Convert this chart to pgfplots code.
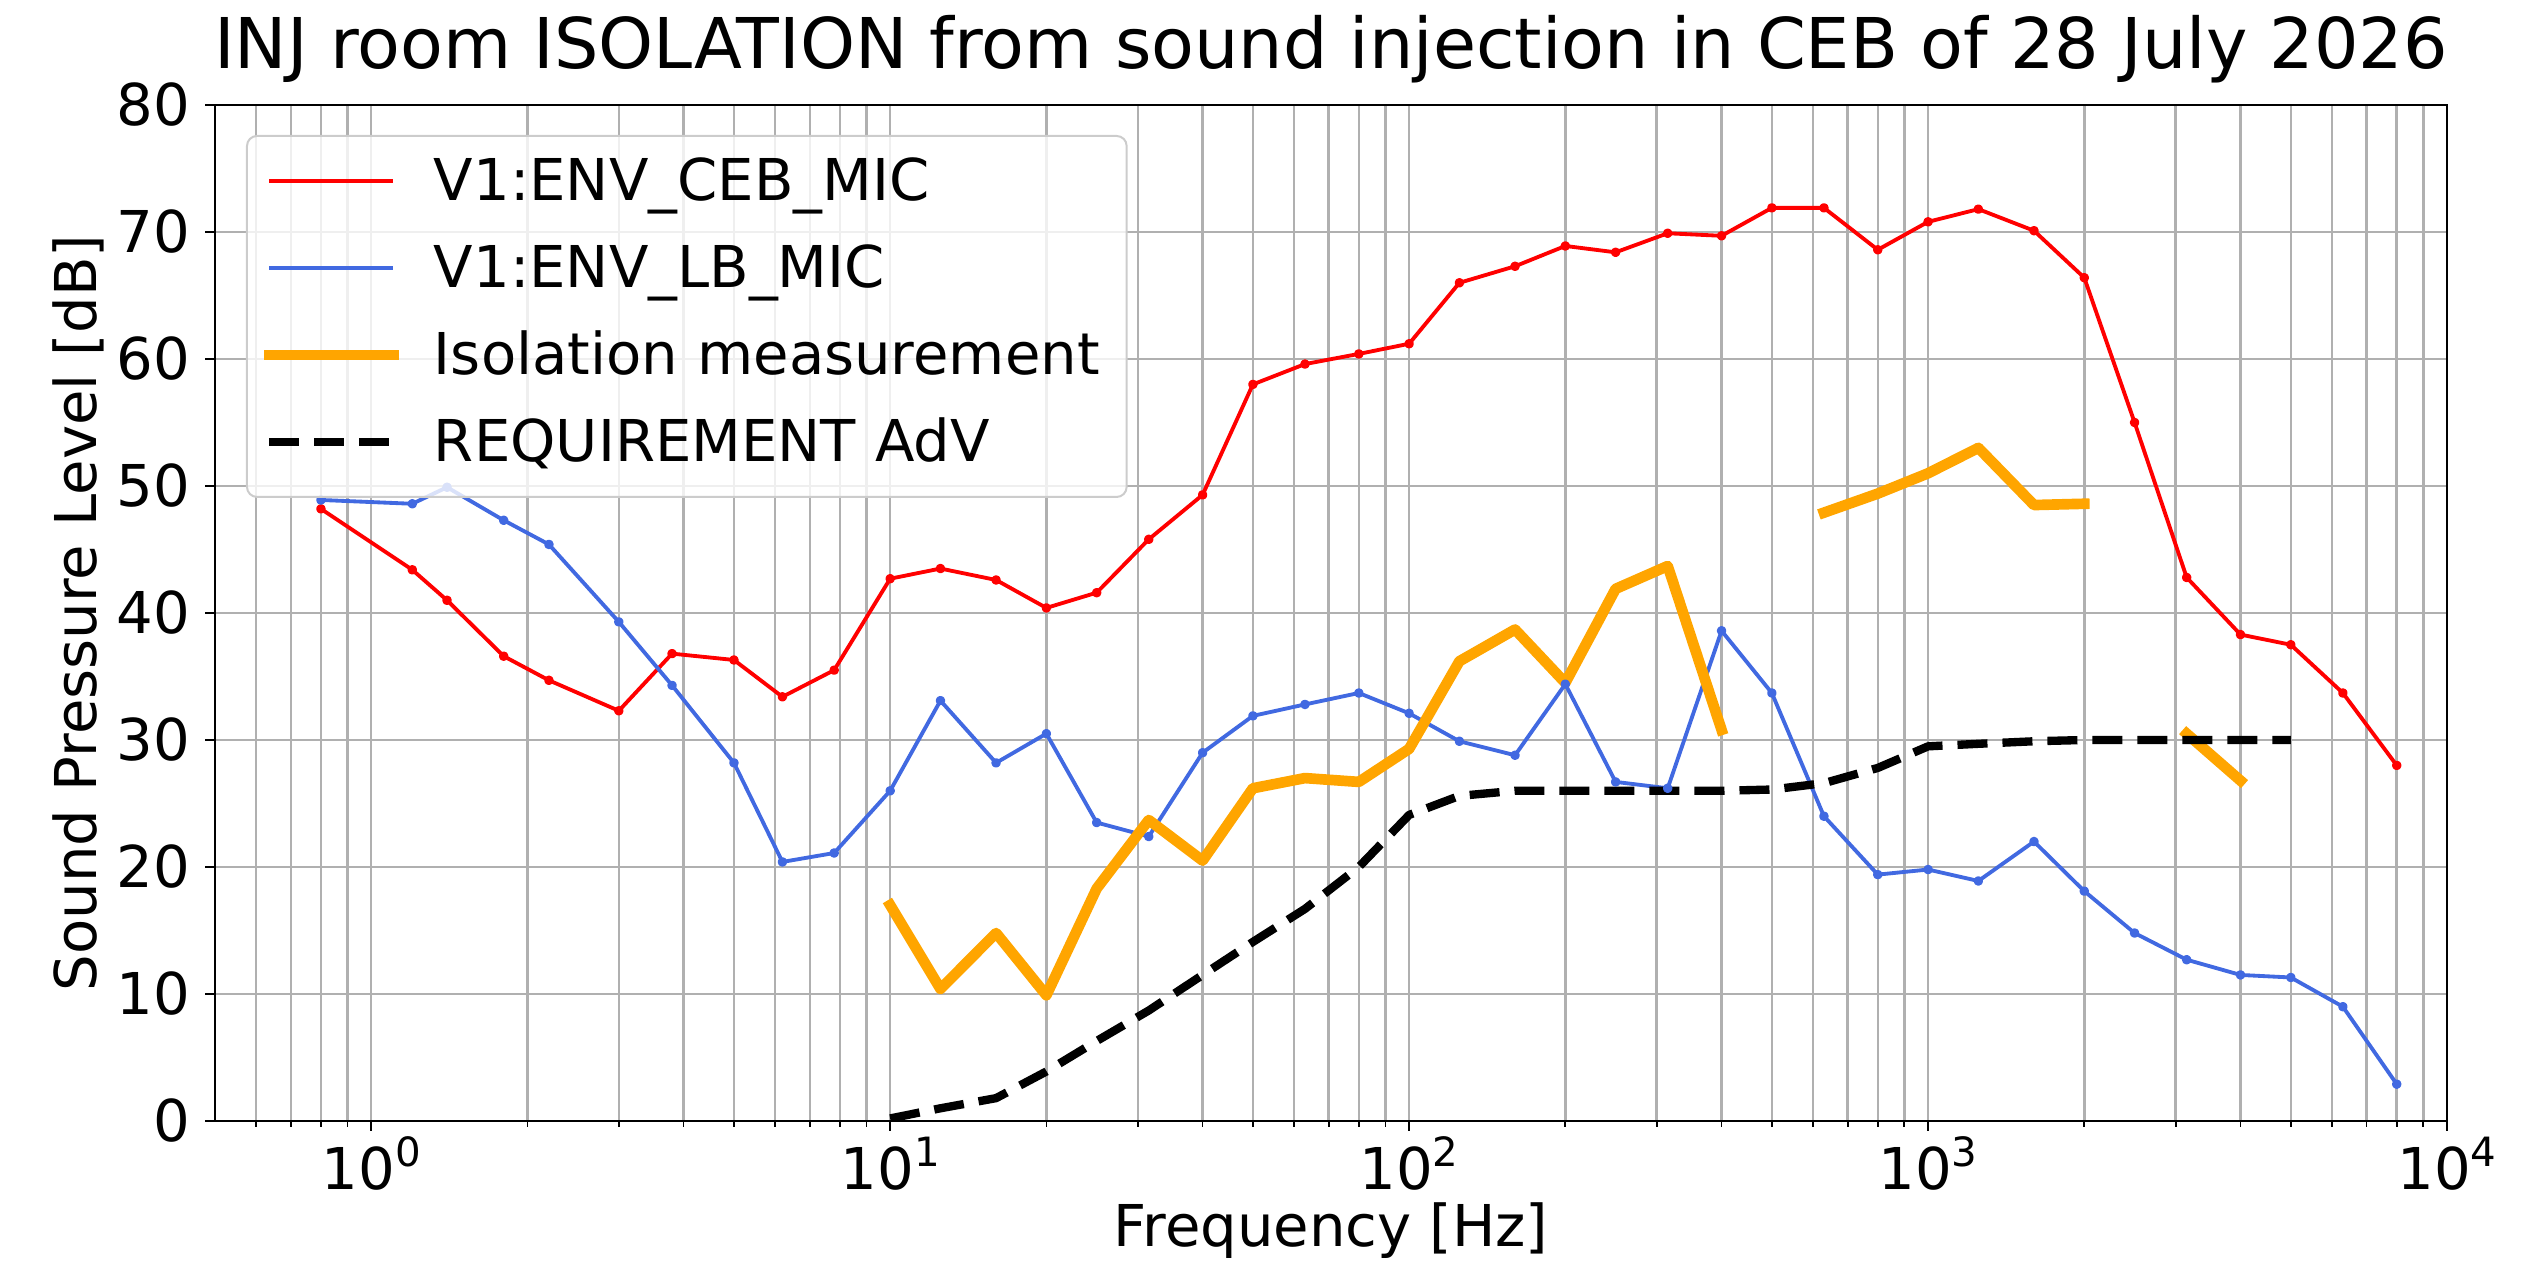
\documentclass[border=0pt]{standalone}
\usepackage{fontspec}
\setmainfont{DejaVu Sans}
\usepackage{pgfplots}
\pgfplotsset{compat=1.18}
\definecolor{mplred}{RGB}{255,0,0}
\definecolor{royalblue}{RGB}{65,105,225}
\definecolor{mplorange}{RGB}{255,165,0}
\definecolor{gridgray}{RGB}{176,176,176}
\newcommand{\tsize}{\fontsize{17.3}{20.8}\selectfont}
\newcommand{\tenpow}[1]{10\raisebox{0.4em}{\fontsize{12.1}{12.1}\selectfont #1}}
\begin{document}
\begin{tikzpicture}
\useasboundingbox (-64.5pt,-43.5pt) rectangle (693.3pt,336.3pt);
\begin{axis}[
  at={(0pt,0pt)}, anchor=south west,
  scale only axis, width=669.6pt, height=304.8pt,
  xmode=log, xmin=0.5, xmax=10000, ymin=0, ymax=80,
  xtick={1,10,100,1000,10000},
  xticklabels={\tenpow{0},\tenpow{1},\tenpow{2},\tenpow{3},\tenpow{4}},
  minor xtick={0.6,0.7,0.8,0.9,2,3,4,5,6,7,8,9,20,30,40,50,60,70,80,90,200,300,400,500,600,700,800,900,2000,3000,4000,5000,6000,7000,8000,9000},
  ytick={0,10,20,30,40,50,60,70,80},
  tick align=outside,
  xtick pos=bottom, ytick pos=left,
  major tick length=2.9pt, minor tick length=1.8pt,
  every tick/.style={black, line width=0.6pt},
  every minor tick/.style={black, line width=0.5pt},
  xmajorgrids, xminorgrids, ymajorgrids,
  major grid style={gridgray, line width=0.75pt},
  minor grid style={gridgray, line width=0.75pt},
  axis line style={line width=0.6pt},
  tick label style={font=\tsize},
  /pgf/number format/assume math mode=true,
  xticklabel style={anchor=base, inner sep=0pt, yshift=-17.8pt},
  yticklabel style={anchor=east, inner sep=0pt, xshift=-4.4pt},
  title={INJ room ISOLATION from sound injection in CEB of 28 July 2026},
  title style={at={(0.5,1.0164)}, anchor=base, inner sep=0pt, font=\fontsize{21}{25}\selectfont},
  xlabel={Frequency [Hz]},
  xlabel style={at={(0.5,-0.1240)}, anchor=base, inner sep=0pt, font=\tsize},
  ylabel={Sound Pressure Level [dB]},
  ylabel style={at={(-0.0530,0.5)}, anchor=base, rotate=0, inner sep=0pt, font=\tsize},
  legend style={
    at={(0.01389,0.9705)}, anchor=north west,
    draw=black!20, line width=0.6pt, rounded corners=3pt,
    fill=white, fill opacity=0.8, text opacity=1,
    inner xsep=5.1pt, inner ysep=1.95pt,
    row sep=0pt, column sep=10.6pt,
    font=\tsize,
    nodes={inner sep=0pt, text height=17.55pt, text depth=8.55pt, text width=202.7pt, align=left, anchor=base west},
  },
  legend cell align=left,
  legend image code/.code={\draw[#1] (0pt,6pt) -- (37.2pt,6pt);},
  unbounded coords=jump,
]
\addplot[mplred, line width=1.15pt, line join=round, mark=*, mark size=0.85pt] table {
x y
0.8 48.2
1.2 43.4
1.4 41.0
1.8 36.6
2.2 34.7
3.0 32.3
3.8 36.8
5.0 36.3
6.2 33.4
7.8 35.5
10 42.7
12.5 43.5
16 42.6
20 40.4
25 41.6
31.5 45.8
40 49.3
50 58.0
63 59.6
80 60.4
100 61.2
125 66.0
160 67.3
200 68.9
250 68.4
315 69.9
400 69.7
500 71.9
630 71.9
800 68.6
1000 70.8
1250 71.8
1600 70.1
2000 66.4
2500 55.0
3150 42.8
4000 38.3
5000 37.5
6300 33.7
8000 28.0
};
\addlegendentry{V1:ENV\_CEB\_MIC}
\addplot[royalblue, line width=1.15pt, line join=round, mark=*, mark size=0.85pt] table {
x y
0.8 48.9
1.2 48.6
1.4 49.9
1.8 47.3
2.2 45.4
3.0 39.3
3.8 34.3
5.0 28.2
6.2 20.4
7.8 21.1
10 26.0
12.5 33.1
16 28.2
20 30.5
25 23.5
31.5 22.4
40 29.0
50 31.9
63 32.8
80 33.7
100 32.1
125 29.9
160 28.8
200 34.4
250 26.7
315 26.2
400 38.6
500 33.7
630 24.0
800 19.4
1000 19.8
1250 18.9
1600 22.0
2000 18.1
2500 14.8
3150 12.7
4000 11.5
5000 11.3
6300 9.0
8000 2.9
};
\addlegendentry{V1:ENV\_LB\_MIC}
\addplot[mplorange, line width=3.2pt, line join=round, line cap=rect] table {
x y
10 17.0
12.5 10.4
16 14.8
20 9.9
25 18.3
31.5 23.7
40 20.5
50 26.2
63 27.0
80 26.7
100 29.3
125 36.2
160 38.7
200 34.5
250 41.9
315 43.7
400 30.8
500 nan
630 47.9
800 49.4
1000 51.0
1250 53.0
1600 48.5
2000 48.6
2500 nan
3150 30.5
4000 26.8
};
\addlegendentry{Isolation measurement}
\addplot[black, line width=2.5pt, dash pattern=on 9pt off 4.5pt, line join=round] table {
x y
10 0.2
12.5 1.0
16 1.8
20 3.9
25 6.3
31.5 8.7
40 11.5
50 14.1
63 16.7
80 20.0
100 24.1
125 25.6
160 26.0
200 26.0
250 26.0
315 26.0
400 26.0
500 26.1
630 26.6
800 27.8
1000 29.5
1250 29.7
1600 29.9
2000 30.0
2500 30.0
3150 30.0
4000 30.0
5000 30.0
};
\addlegendentry{REQUIREMENT AdV}
\end{axis}
\end{tikzpicture}
\end{document}
